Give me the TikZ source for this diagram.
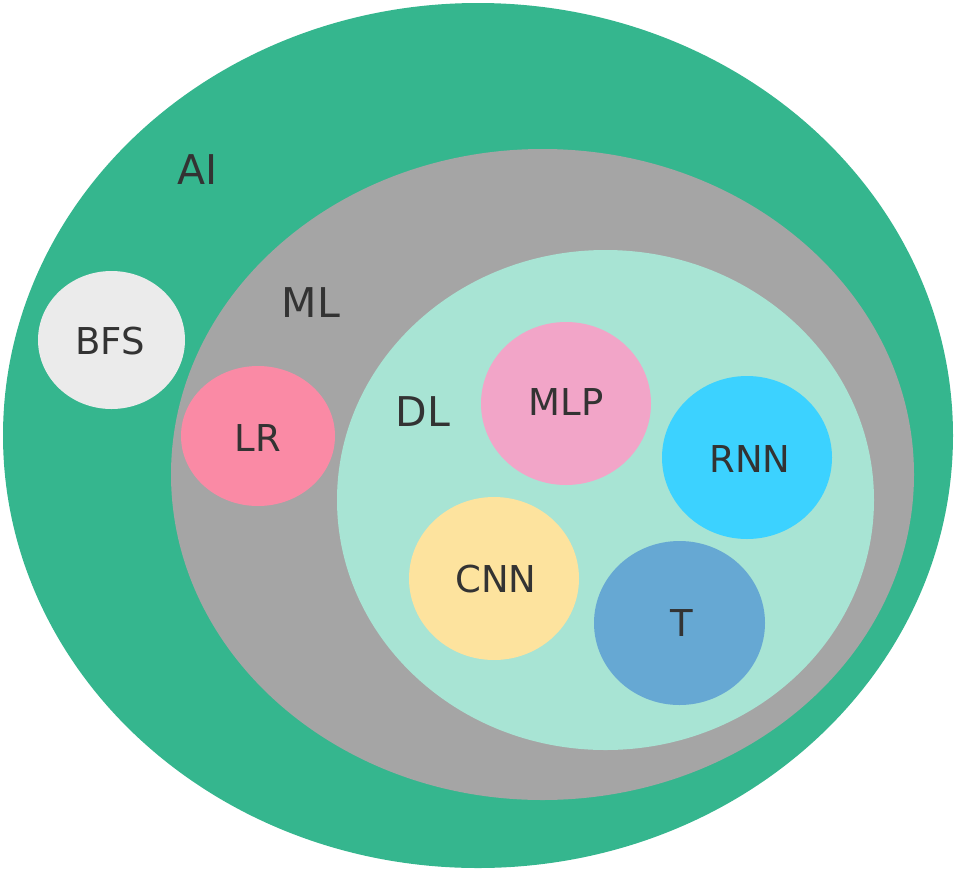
\documentclass[tikz,border=0pt]{standalone}
\usepackage{fontspec}
\setmainfont{DejaVu Sans}
\definecolor{aigreen}{HTML}{35B68E}
\definecolor{mlgray}{HTML}{A5A5A5}
\definecolor{dlmint}{HTML}{A8E4D4}
\definecolor{bfsgray}{HTML}{EBEBEB}
\definecolor{lrpink}{HTML}{FA8AA5}
\definecolor{mlppink}{HTML}{F2A5C8}
\definecolor{rnnblue}{HTML}{3CD2FF}
\definecolor{cnnyellow}{HTML}{FDE39E}
\definecolor{tblue}{HTML}{66A8D3}
\definecolor{labelink}{HTML}{333333}
\tikzset{
  region/.style={ellipse, inner sep=0pt},
  biglabel/.style={text=labelink, font=\fontsize{41}{41}\selectfont, inner sep=0pt},
  smalllabel/.style={text=labelink, font=\fontsize{37}{37}\selectfont, inner sep=0pt},
}
\begin{document}
\begin{tikzpicture}[x=1pt, y=-1pt]
  \useasboundingbox (0,0) rectangle (956,871);
  % nested sets
  \fill[aigreen] (478,435.5) ellipse [x radius=475, y radius=432.5];
  \fill[mlgray] (542.5,474.5) ellipse [x radius=371.5, y radius=325.5];
  \fill[dlmint] (605.5,500) ellipse [x radius=268.5, y radius=250];
  % individual methods
  \fill[bfsgray] (111.5,340) ellipse [x radius=73.5, y radius=69];
  \fill[lrpink] (258,436) ellipse [x radius=77, y radius=70];
  \fill[mlppink] (566,403.5) ellipse [x radius=85, y radius=81.5];
  \fill[rnnblue] (747,457.5) ellipse [x radius=85, y radius=81.5];
  \fill[cnnyellow] (494,578.5) ellipse [x radius=85, y radius=81.5];
  \fill[tblue] (679.5,623) ellipse [x radius=85.5, y radius=82];
  % labels
  \node[biglabel] (ai) at (198,170) {AI};
  \node[biglabel] (ml) at (311,303) {ML};
  \node[biglabel] (dl) at (423,412) {DL};
  \node[smalllabel] (bfs) at (110,341) {BFS};
  \node[smalllabel] (lr) at (258,438) {LR};
  \node[smalllabel] (mlp) at (566,402) {MLP};
  \node[smalllabel] (rnn) at (750,459) {RNN};
  \node[smalllabel] (cnn) at (496,579) {CNN};
  \node[smalllabel] (t) at (682,623) {T};
\end{tikzpicture}
\end{document}
